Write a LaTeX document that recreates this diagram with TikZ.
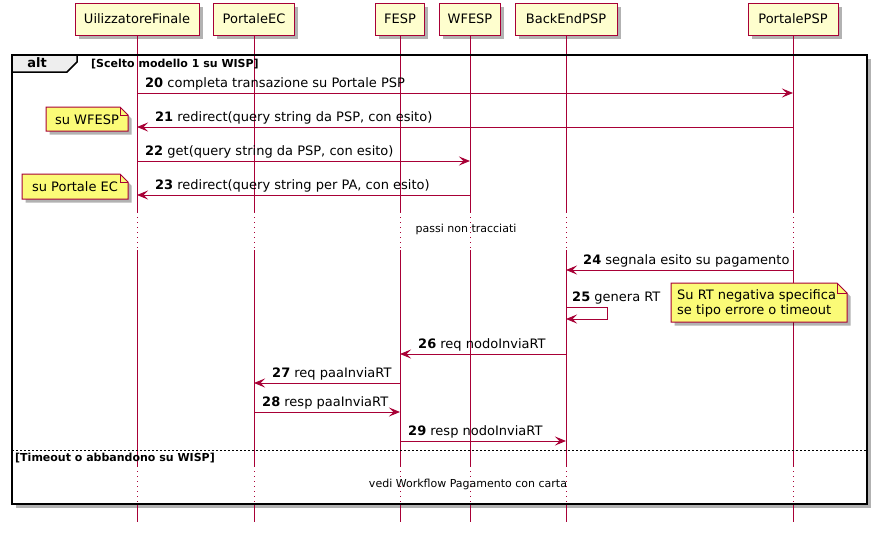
\documentclass[tikz,border=0pt]{standalone}
\usepackage{fontspec}
\setmainfont{DejaVu Sans}
\usetikzlibrary{arrows.meta,shadows,calc}
\definecolor{pline}{HTML}{A80036}
\definecolor{pfill}{HTML}{FEFECE}
\definecolor{nfill}{HTML}{FBFB77}
\definecolor{tabfill}{HTML}{EEEEEE}
\begin{document}
\begin{tikzpicture}[x=1pt,y=-1pt,
  shad/.style={drop shadow={shadow xshift=3.5pt,shadow yshift=-3.5pt,opacity=0.3,fill=black}},
  part/.style={draw=pline,fill=pfill,line width=1pt,minimum height=32pt,inner sep=0pt,
    font=\fontsize{13}{15}\selectfont,shad},
  life/.style={draw=pline,line width=1pt},
  lifedot/.style={draw=pline,line width=1pt,dash pattern=on 1pt off 4pt},
  msg/.style={draw=pline,line width=1pt,-{Stealth[length=11pt,width=9pt,inset=4.5pt]}},
  lbl/.style={anchor=base west,inner sep=0pt,font=\fontsize{13}{15}\selectfont},
  small/.style={inner sep=0pt,font=\fontsize{11}{13}\selectfont},
  cond/.style={inner sep=0pt,font=\fontsize{11}{13}\selectfont\bfseries},
  notebox/.style={draw=pline,fill=nfill,line width=1pt,shad},
  notetxt/.style={inner sep=0pt,font=\fontsize{13}{15}\selectfont,align=left},
  frame/.style={draw=black,line width=1.5pt},
]
\useasboundingbox (0,0) rectangle (878,533);

% alt frame
\path[frame,shad,fill=white] (12,55) rectangle (867,504);

% participants
\node[part,minimum width=124pt] (ue) at (137,19) {UilizzatoreFinale};
\node[part,minimum width=81pt] (pec) at (254,19) {PortaleEC};
\node[part,minimum width=49pt] (fesp) at (400,19) {FESP};
\node[part,minimum width=61pt] (wfesp) at (470,19) {WFESP};
\node[part,minimum width=102pt] (be) at (566,19) {BackEndPSP};
\node[part,minimum width=90pt] (ppsp) at (793,19) {PortalePSP};

% lifelines
\foreach \p in {ue,pec,fesp,wfesp,be,ppsp}{
  \draw[life] (\p.south) -- (\p |- 0,212);
  \draw[lifedot] (\p |- 0,212) -- (\p |- 0,250);
  \draw[life] (\p |- 0,250) -- (\p |- 0,466);
  \draw[lifedot] (\p |- 0,466) -- (\p |- 0,504);
  \draw[life] (\p |- 0,504) -- (\p |- 0,522);
}

% frame border on top, tab
\draw[frame] (12,55) rectangle (867,504);
\draw[frame,fill=tabfill] (12,55) -- (77,55) -- (77,62) -- (67,72) -- (12,72) -- cycle;
\node[inner sep=0pt,font=\fontsize{13}{15}\selectfont\bfseries] (altl) at (37,63) {alt};
\node[cond,anchor=base west] (c1) at (91,67) {[Scelto modello 1 su WISP]};
\draw[black,line width=1pt,dash pattern=on 2pt off 2pt] (12,450) -- (867,450);
\node[cond,anchor=base west] (c2) at (15,461) {[Timeout o abbandono su WISP]};

% messages
\draw[msg] (ue |- 0,93) -- (ppsp |- 0,93);
\node[lbl] (l20) at (145,87) {\textbf{20} completa transazione su Portale PSP};
\draw[msg] (ppsp |- 0,127) -- (ue |- 0,127);
\node[lbl] (l21) at (155,121) {\textbf{21} redirect(query string da PSP, con esito)};
\draw[msg] (ue |- 0,161) -- (wfesp |- 0,161);
\node[lbl] (l22) at (145,155) {\textbf{22} get(query string da PSP, con esito)};
\draw[msg] (wfesp |- 0,195) -- (ue |- 0,195);
\node[lbl] (l23) at (155,189) {\textbf{23} redirect(query string per PA, con esito)};

\node[small] (delay1) at (466,229) {passi non tracciati};

\draw[msg] (ppsp |- 0,270) -- (be |- 0,270);
\node[lbl] (l24) at (583,264) {\textbf{24} segnala esito su pagamento};
\coordinate (s25a) at (607,307);
\coordinate (s25b) at (607,319);
\draw[msg] (be |- 0,307) -- (s25a) -- (s25b) -- (be |- 0,319);
\node[lbl] (l25) at (572,301) {\textbf{25} genera RT};

\draw[msg] (be |- 0,354) -- (fesp |- 0,354);
\node[lbl] (l26) at (418,348) {\textbf{26} req nodoInviaRT};
\draw[msg] (fesp |- 0,383) -- (pec |- 0,383);
\node[lbl] (l27) at (272,377) {\textbf{27} req paaInviaRT};
\draw[msg] (pec |- 0,412) -- (fesp |- 0,412);
\node[lbl] (l28) at (262,406) {\textbf{28} resp paaInviaRT};
\draw[msg] (fesp |- 0,441) -- (be |- 0,441);
\node[lbl] (l29) at (408,435) {\textbf{29} resp nodoInviaRT};

\node[small] (delay2) at (468,484) {vedi Workflow Pagamento con carta};

% notes
\path[notebox] (46,107) -- (120,107) -- (128,115) -- (128,131) -- (46,131) -- cycle;
\draw[pline,line width=1pt] (120,107) -- (120,115) -- (128,115);
\node[notetxt] (n1) at (87,120) {su WFESP};

\path[notebox] (22,174) -- (120,174) -- (128,182) -- (128,199) -- (22,199) -- cycle;
\draw[pline,line width=1pt] (120,174) -- (120,182) -- (128,182);
\node[notetxt] (n2) at (75,187) {su Portale EC};

\path[notebox] (671,283) -- (837,283) -- (847,293) -- (847,322) -- (671,322) -- cycle;
\draw[pline,line width=1pt] (837,283) -- (837,293) -- (847,293);
\node[notetxt,anchor=west] (n3) at (677,303) {Su RT negativa specifica\\se tipo errore o timeout};
\end{tikzpicture}
\end{document}
